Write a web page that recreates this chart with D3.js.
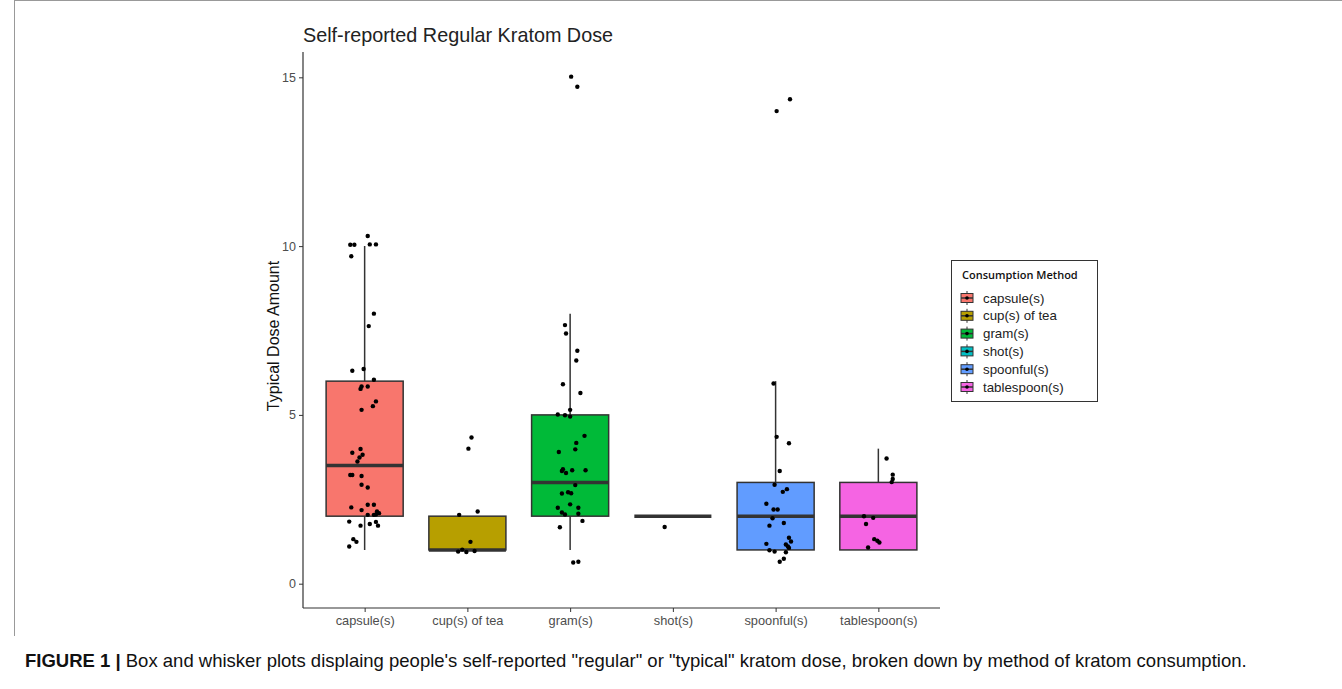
<!DOCTYPE html>
<html>
<head>
<meta charset="utf-8">
<script src="https://cdn.jsdelivr.net/npm/d3@7"></script>
<style>
  body { margin: 0; background: #fff; font-family: "Liberation Sans", Arial, sans-serif; }
  svg { display: block; }
</style>
</head>
<body>
<div id="chart"></div>
<script>
// categories + colours (ggplot default hue palette)
const methods = ["capsule(s)", "cup(s) of tea", "gram(s)", "shot(s)", "spoonful(s)", "tablespoon(s)"];
const colors = ["#F8766D", "#B79F00", "#00BA38", "#00BFC4", "#619CFF", "#F564E3"];

// box stats per method: [lowerWhisker, q1, median, q3, upperWhisker]
const boxStats = [
  [1, 2, 3.5, 6, 10],
  [1, 1, 1, 2, 2],
  [1, 2, 3, 5, 8],
  [2, 2, 2, 2, 2],
  [1, 1, 2, 3, 6],
  [1, 1, 2, 3, 4]
];

// jittered points: [jitter (category units), value]
const capsulePts = [[0.03,10.30],[-0.14,10.04],[-0.10,10.04],[0.05,10.05],[0.11,10.05],[-0.13,9.70],[0.09,8.0],[0.04,7.63],
  [-0.12,6.31],[-0.01,6.36],[0.09,6.04],[-0.03,5.84],[-0.04,5.77],[0.03,5.84],[0.11,5.40],[0.08,5.26],[-0.03,5.15],
  [-0.12,3.88],[-0.04,3.99],[-0.02,3.82],[-0.05,3.74],[-0.07,3.62],[-0.14,3.22],[-0.12,3.22],[-0.03,3.19],[-0.03,2.93],
  [0.03,2.85],[-0.13,2.26],[-0.03,2.18],[0.03,2.34],[0.09,2.34],[0.12,2.14],[0.14,2.09],[0.11,2.05],[0.03,2.04],[0.09,2.04],
  [-0.15,1.84],[-0.04,1.72],[0.05,1.77],[0.11,1.83],[0.13,1.72],[-0.11,1.32],[-0.08,1.24],[-0.15,1.10]];
const cupPts = [[0.04,4.33],[0.01,4.00],[-0.08,2.04],[0.10,2.14],[0.03,1.24],[-0.09,0.95],[-0.05,1.01],[-0.01,0.94],[0.07,0.97]];
const gramPts = [[-0.05,7.66],[-0.04,7.41],[0.07,6.90],[0.06,6.61],[-0.07,5.91],[0.10,5.65],[0.00,5.15],[-0.12,5.01],[-0.05,4.99],
  [0.00,4.95],[0.14,4.38],[0.06,4.17],[0.05,3.98],[-0.11,3.90],[-0.07,3.39],[-0.08,3.34],[-0.04,3.28],[0.02,3.36],[0.15,3.36],
  [0.05,2.92],[-0.08,2.67],[-0.02,2.71],[0.01,2.68],[0.00,2.35],[-0.12,2.25],[0.08,2.25],[-0.08,2.11],[-0.05,2.05],[0.08,2.07],
  [0.12,1.86],[-0.10,1.67],[0.03,0.63],[0.08,0.65],[0.01,15.02],[0.07,14.72]];
const shotPts = [[-0.08,1.68]];
const spoonPts = [[-0.02,5.93],[0.01,4.35],[0.13,4.16],[0.04,3.34],[-0.01,2.93],[0.11,2.80],[0.07,2.72],[-0.09,2.37],[-0.02,2.20],
  [0.02,2.20],[-0.03,1.94],[0.08,1.80],[-0.06,1.72],[0.13,1.36],[0.15,1.25],[-0.09,1.18],[0.10,1.16],[0.12,1.10],[0.13,1.06],
  [-0.06,0.99],[-0.01,0.95],[0.10,0.93],[0.08,0.74],[0.04,0.65],[0.14,14.35],[0.01,14.0]];
const tablePts = [[0.08,3.71],[0.14,3.23],[0.14,3.10],[0.13,3.01],[-0.14,2.00],[-0.05,1.95],[-0.12,1.77],[-0.04,1.32],[0.01,1.22],[-0.01,1.27],[-0.10,1.07]];
const allPts = [capsulePts, cupPts, gramPts, shotPts, spoonPts, tablePts];

const yTicks = [0, 5, 10, 15];

const W = 1342, H = 689;
const plot = { left: 303, right: 940, top: 52, bottom: 608 };

const svg = d3.select("#chart").append("svg").attr("width", W).attr("height", H);

// figure frame lines
svg.append("line").attr("x1", 14.5).attr("x2", 14.5).attr("y1", 0).attr("y2", 636).attr("stroke", "#999").attr("stroke-width", 1);
svg.append("line").attr("x1", 14).attr("x2", W).attr("y1", 0.5).attr("y2", 0.5).attr("stroke", "#999").attr("stroke-width", 1);

// scales - discrete axis with ggplot style 0.6 expansion
const x = d3.scaleLinear().domain([0.4, 6.6]).range([plot.left, plot.right]);
const y = d3.scaleLinear().domain([-0.72, 15.75]).range([plot.bottom, plot.top]);
const boxW = x(1.75) - x(1); // box width 0.75 of a category

// axes
svg.append("g")
  .attr("transform", `translate(${plot.left},0)`)
  .call(d3.axisLeft(y).tickValues(yTicks).tickSize(4).tickPadding(3))
  .call(g => g.select(".domain").remove())
  .call(g => g.selectAll("line").attr("stroke", "#333"))
  .call(g => g.selectAll("text").attr("fill", "#4d4d4d").style("font-size", "12.5px").style("font-family", "Liberation Sans, Arial, sans-serif"));

svg.append("g")
  .attr("transform", `translate(0,${plot.bottom})`)
  .call(d3.axisBottom(x).tickValues(d3.range(1, 7)).tickFormat(i => methods[i - 1]).tickSize(4).tickPadding(4))
  .call(g => g.select(".domain").remove())
  .call(g => g.selectAll("line").attr("stroke", "#333"))
  .call(g => g.selectAll("text").attr("fill", "#4d4d4d").style("font-size", "12.8px").style("font-family", "Liberation Sans, Arial, sans-serif"));

// axis lines
svg.append("line").attr("x1", plot.left).attr("x2", plot.left).attr("y1", plot.top).attr("y2", plot.bottom).attr("stroke", "#333").attr("stroke-width", 1.2);
svg.append("line").attr("x1", plot.left).attr("x2", plot.right).attr("y1", plot.bottom).attr("y2", plot.bottom).attr("stroke", "#333").attr("stroke-width", 1.2);

// boxes
const boxes = svg.append("g").selectAll("g").data(boxStats).join("g");
boxes.append("line")
  .attr("x1", (d, i) => x(i + 1)).attr("x2", (d, i) => x(i + 1))
  .attr("y1", d => y(d[0])).attr("y2", d => y(d[4]))
  .attr("stroke", "#333").attr("stroke-width", 1.5);
boxes.append("rect")
  .attr("x", (d, i) => x(i + 1) - boxW / 2)
  .attr("width", boxW)
  .attr("y", d => y(d[3]))
  .attr("height", d => y(d[1]) - y(d[3]))
  .attr("fill", (d, i) => colors[i])
  .attr("stroke", "#333").attr("stroke-width", 1.5);
boxes.append("line")
  .attr("x1", (d, i) => x(i + 1) - boxW / 2).attr("x2", (d, i) => x(i + 1) + boxW / 2)
  .attr("y1", d => y(d[2])).attr("y2", d => y(d[2]))
  .attr("stroke", "#333").attr("stroke-width", 3.5);

// jittered points
allPts.forEach((pts, i) => {
  svg.append("g").selectAll("circle").data(pts).join("circle")
    .attr("cx", d => x(i + 1 + d[0]))
    .attr("cy", d => y(d[1]))
    .attr("r", 2.2)
    .attr("fill", "#000");
});

// title
svg.append("text").attr("x", plot.left).attr("y", 42)
  .attr("fill", "#222").style("font-size", "19.8px")
  .text("Self-reported Regular Kratom Dose");

// y label
svg.append("text")
  .attr("transform", `translate(279,${(plot.top + plot.bottom) / 2 + 6}) rotate(-90)`)
  .attr("text-anchor", "middle").attr("fill", "#111").style("font-size", "16px")
  .text("Typical Dose Amount");

// legend
const lg = svg.append("g").attr("transform", "translate(951,260)");
lg.append("rect").attr("x", 0.5).attr("y", 0.5).attr("width", 146).attr("height", 141)
  .attr("fill", "#fff").attr("stroke", "#333").attr("stroke-width", 1);
lg.append("text").attr("x", 11).attr("y", 19).attr("fill", "#111")
  .style("font-size", "11px").style("font-weight", "600").style("font-family", "Open Sans, sans-serif")
  .text("Consumption Method");
const rows = lg.selectAll(".key").data(methods).join("g")
  .attr("class", "key")
  .attr("transform", (d, i) => `translate(8,${38 + i * 17.8})`);
rows.append("line").attr("x1", 8).attr("x2", 8).attr("y1", -7).attr("y2", 7).attr("stroke", "#333").attr("stroke-width", 1);
rows.append("rect").attr("x", 2).attr("y", -4.5).attr("width", 12).attr("height", 9)
  .attr("fill", (d, i) => colors[i]).attr("stroke", "#333").attr("stroke-width", 1);
rows.append("line").attr("x1", 2).attr("x2", 14).attr("y1", 0).attr("y2", 0).attr("stroke", "#333").attr("stroke-width", 1.5);
rows.append("circle").attr("cx", 8).attr("cy", 0).attr("r", 1.8).attr("fill", "#000");
rows.append("text").attr("x", 24).attr("y", 4.5).attr("fill", "#222")
  .style("font-size", "13.3px").text(d => d);

// caption
const cap = svg.append("text").attr("x", 25).attr("y", 667).style("font-size", "18.5px").attr("fill", "#111");
cap.append("tspan").style("font-weight", "bold").text("FIGURE 1 | ");
cap.append("tspan").text("Box and whisker plots displaing people's self-reported \"regular\" or \"typical\" kratom dose, broken down by method of kratom consumption.");
</script>
</body>
</html>
